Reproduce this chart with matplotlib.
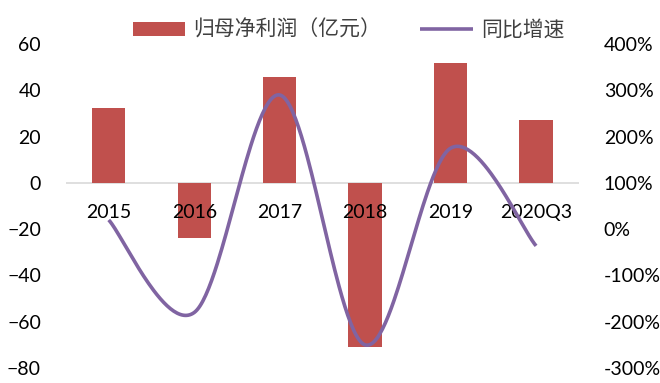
import numpy as np
import matplotlib.pyplot as plt

plt.rcParams['font.family'] = ['Lato', 'Noto Sans CJK SC', 'DejaVu Sans']

# net profit attributable to parent (100M yuan) and YoY growth (%)
periods = ['2015', '2016', '2017', '2018', '2019', '2020Q3']
profit = [32.3, -23.7, 45.7, -70.7, 51.7, 27.2]
growth = [20, -180, 290, -250, 175, -36]
left_ticks = [60, 40, 20, 0, -20, -40, -60, -80]
right_ticks = [400, 300, 200, 100, 0, -100, -200, -300]

bar_color = '#C0504D'
line_color = '#8064A2'
fs = 14


def smooth(xs, ys, n=60):
    # Catmull-Rom style bezier through every point, like a spreadsheet smoothed line
    xs = np.asarray(xs, float)
    ys = np.asarray(ys, float)
    px = np.concatenate([[xs[0]], xs, [xs[-1]]])
    py = np.concatenate([[ys[0]], ys, [ys[-1]]])
    outx, outy = [], []
    for i in range(1, len(px) - 2):
        p0 = np.array([px[i - 1], py[i - 1]])
        p1 = np.array([px[i], py[i]])
        p2 = np.array([px[i + 1], py[i + 1]])
        p3 = np.array([px[i + 2], py[i + 2]])
        c1 = p1 + (p2 - p0) / 6
        c2 = p2 - (p3 - p1) / 6
        t = np.linspace(0, 1, n)[:, None]
        pts = ((1 - t) ** 3) * p1 + 3 * ((1 - t) ** 2) * t * c1 + 3 * (1 - t) * t ** 2 * c2 + t ** 3 * p2
        outx.extend(pts[:, 0])
        outy.extend(pts[:, 1])
    return np.array(outx), np.array(outy)


fig = plt.figure(figsize=(6.6, 3.83), dpi=100)
ax = fig.add_axes([0.1, 0.039, 0.777, 0.846])
x = np.arange(len(periods))
ax.bar(x, profit, width=0.39, color=bar_color, zorder=2, label='归母净利润（亿元）')
ax.set_xlim(-0.5, len(periods) - 0.5)
ax.set_ylim(-80, 60)
ax.set_yticks(left_ticks)
ax.tick_params(axis='y', length=0, pad=18, labelsize=fs)
ax.set_xticks([])
for s in ['top', 'right', 'left', 'bottom']:
    ax.spines[s].set_visible(False)
ax.axhline(0, color='#D9D9D9', lw=1.2, zorder=1)

# category names sit just under the zero line
for xi, name in zip(x, periods):
    ax.annotate(name, (xi, 0), xytext=(0, -21), textcoords='offset points',
                ha='center', va='center', fontsize=fs, zorder=4)

ax2 = ax.twinx()
ax2.set_ylim(-300, 400)
ax2.set_yticks(right_ticks)
ax2.set_yticklabels([f'{v}%' for v in right_ticks])
ax2.tick_params(axis='y', length=0, pad=18, labelsize=fs)
for s in ['top', 'right', 'left', 'bottom']:
    ax2.spines[s].set_visible(False)
sx, sy = smooth(x, growth)
ax2.plot(sx, sy, color=line_color, lw=2.6, zorder=3, label='同比增速',
         solid_capstyle='butt')

h1, l1 = ax.get_legend_handles_labels()
h2, l2 = ax2.get_legend_handles_labels()
fig.legend(h1 + h2, l1 + l2, loc='center', bbox_to_anchor=(0.528, 0.922), ncol=2,
           frameon=False, fontsize=15, handlelength=2.5, handleheight=0.65,
           columnspacing=1.9, handletextpad=0.4, labelcolor='#404040')

fig.savefig('out.png', dpi=100)
